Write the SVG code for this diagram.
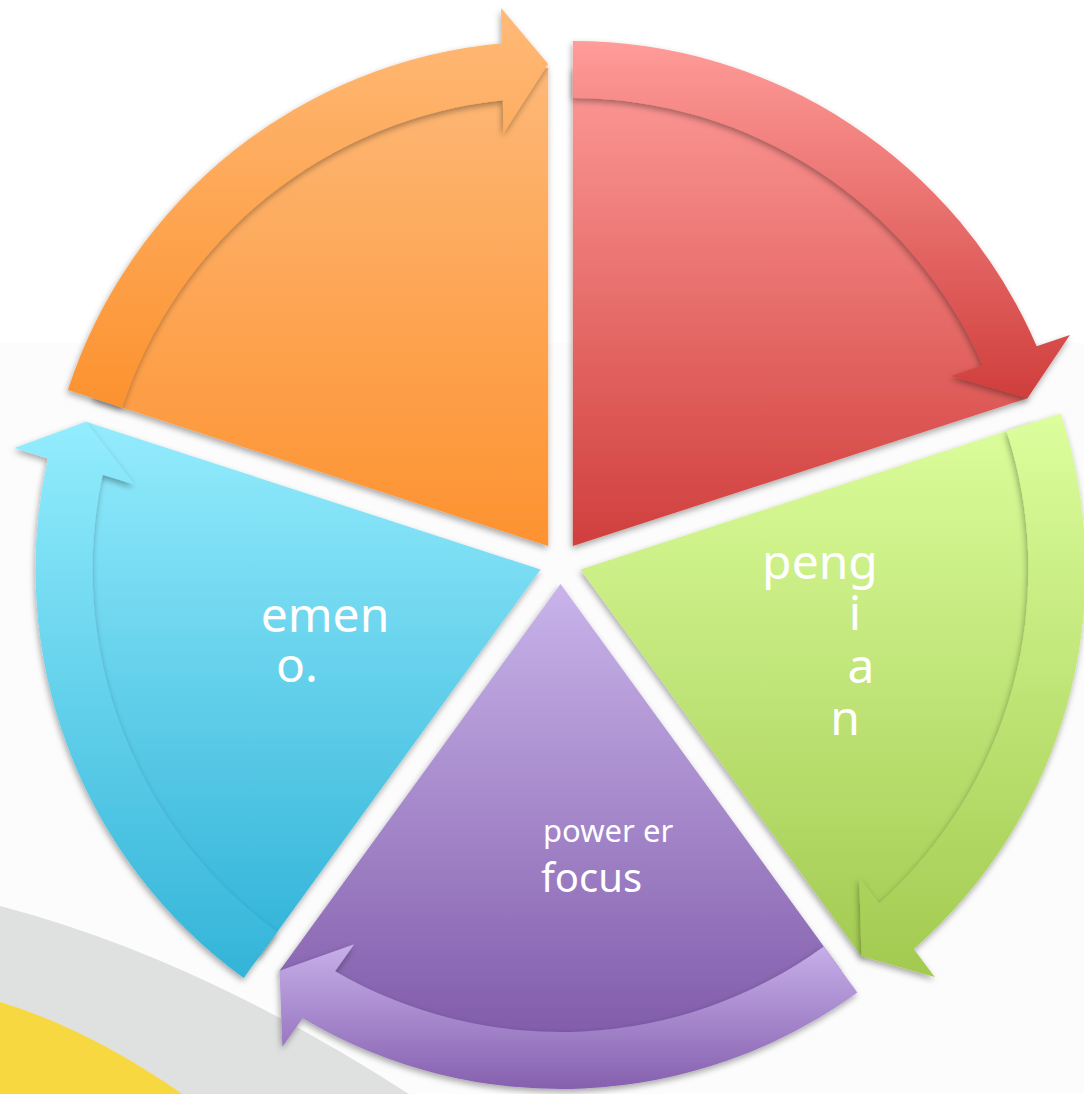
<svg xmlns="http://www.w3.org/2000/svg" width="1084" height="1094" viewBox="0 0 1084 1094">
<style>
.lbl{font-family:"Noto Sans","Open Sans","DejaVu Sans",sans-serif;fill:#ffffff}
.sh{filter:url(#sh)}
</style>
<defs>
<filter id="sh" x="-10%" y="-10%" width="120%" height="125%">
<feDropShadow dx="-1" dy="3" stdDeviation="3" flood-color="#000" flood-opacity="0.35"/>
</filter>
<linearGradient id="gRw" x1="0" y1="0" x2="0" y2="1"><stop offset="0" stop-color="#fd9a97"/><stop offset="1" stop-color="#d03f3d"/></linearGradient>
<linearGradient id="gRa" x1="0" y1="0" x2="0" y2="1"><stop offset="0" stop-color="#ff9c99"/><stop offset="1" stop-color="#cf3e3c"/></linearGradient>
<linearGradient id="gGw" x1="0" y1="0" x2="0" y2="1"><stop offset="0" stop-color="#dbfd9b"/><stop offset="1" stop-color="#a4cb53"/></linearGradient>
<linearGradient id="gGa" x1="0" y1="0" x2="0" y2="1"><stop offset="0" stop-color="#dcfe9d"/><stop offset="1" stop-color="#a2ca4f"/></linearGradient>
<linearGradient id="gPw" x1="0" y1="0" x2="0" y2="1"><stop offset="0" stop-color="#c9b4ea"/><stop offset="1" stop-color="#7d57a7"/></linearGradient>
<linearGradient id="gPa" x1="0" y1="0" x2="0" y2="1"><stop offset="0" stop-color="#c7b0ea"/><stop offset="1" stop-color="#8660af"/></linearGradient>
<linearGradient id="gCw" x1="0" y1="0" x2="0" y2="1"><stop offset="0" stop-color="#94ecfd"/><stop offset="1" stop-color="#31b3d8"/></linearGradient>
<linearGradient id="gCa" x1="0" y1="0" x2="0" y2="1"><stop offset="0" stop-color="#93edfe"/><stop offset="1" stop-color="#33b4d8"/></linearGradient>
<linearGradient id="gOw" x1="0" y1="0" x2="0" y2="1"><stop offset="0" stop-color="#fdb877"/><stop offset="1" stop-color="#fd9230"/></linearGradient>
<linearGradient id="gOa" x1="0" y1="0" x2="0" y2="1"><stop offset="0" stop-color="#ffba78"/><stop offset="1" stop-color="#fc922f"/></linearGradient>
</defs>

<g id="background">
<rect x="0" y="0" width="1084" height="1094" fill="#ffffff"/>
<rect x="0" y="343" width="1084" height="751" fill="#fcfcfc"/>
<path d="M0,906 Q200,958 415,1098 L0,1098 Z" fill="#dfe1e0"/>
<path d="M0,1002 Q90,1029 188,1098 L0,1098 Z" fill="#f8d840"/>
</g>

<g id="node-red">
<path class="sh" d="M572.84,546.01 L572.84,68.01 A478,478 0 0 1 1027.45,398.30 Z" fill="url(#gRw)"/>
<path class="sh" d="M572.84,41.01 A505,505 0 0 1 1036.66,346.26 L1069.91,335.01 L1027.45,398.30 L951.37,375.89 L982.74,365.22 A448,448 0 0 0 572.84,98.01 Z" fill="url(#gRa)"/>
</g>

<g id="node-green">
<path class="sh" d="M580.47,569.49 L1035.08,421.78 A478,478 0 0 1 861.43,956.20 Z" fill="url(#gGw)"/>
<path class="sh" d="M1060.76,413.43 A505,505 0 0 1 913.77,948.88 L934.74,977.03 L861.43,956.20 L859.23,876.92 L879.08,903.46 A448,448 0 0 0 1006.54,431.05 Z" fill="url(#gGa)"/>
<text class="lbl" x="820" y="579" font-size="48" text-anchor="middle">peng</text>
<text class="lbl" x="855" y="630" font-size="48" text-anchor="middle">i</text>
<text class="lbl" x="861" y="683" font-size="48" text-anchor="middle">a</text>
<text class="lbl" x="845" y="735" font-size="48" text-anchor="middle">n</text>
</g>

<g id="node-purple">
<path class="sh" d="M560.5,584 L841.46,970.71 A478,478 0 0 1 279.53,970.71 Z" fill="url(#gPw)"/>
<path class="sh" d="M857.33,992.56 A505,505 0 0 1 302.67,1018.23 L282.38,1046.87 L279.53,970.71 L354.25,944.13 L335.15,971.20 A448,448 0 0 0 823.83,946.44 Z" fill="url(#gPa)"/>
<text class="lbl" x="543" y="842" font-size="31">power er</text>
<text class="lbl" x="541" y="892" font-size="40">focus</text>
</g>

<g id="node-cyan">
<path class="sh" d="M540.53,569.49 L259.57,956.20 A478,478 0 0 1 85.92,421.78 Z" fill="url(#gCw)"/>
<path class="sh" d="M243.70,978.05 A505,505 0 0 1 47.88,458.46 L14.37,448.02 L85.92,421.78 L134.30,484.62 L102.64,474.81 A448,448 0 0 0 277.20,931.93 Z" fill="url(#gCa)"/>
<text class="lbl" x="325" y="632" font-size="48" text-anchor="middle">emen</text>
<text class="lbl" x="276" y="682" font-size="48">o.</text>
</g>

<g id="node-orange">
<path class="sh" d="M548.16,546.01 L93.55,398.30 A478,478 0 0 1 548.16,68.00 Z" fill="url(#gOw)"/>
<path class="sh" d="M67.87,389.95 A505,505 0 0 1 501.52,43.16 L501.09,8.07 L548.16,64.00 L503.34,133.44 L502.89,100.30 A448,448 0 0 0 122.09,407.57 Z" fill="url(#gOa)"/>
</g>

<g id="connectors"></g>
</svg>
